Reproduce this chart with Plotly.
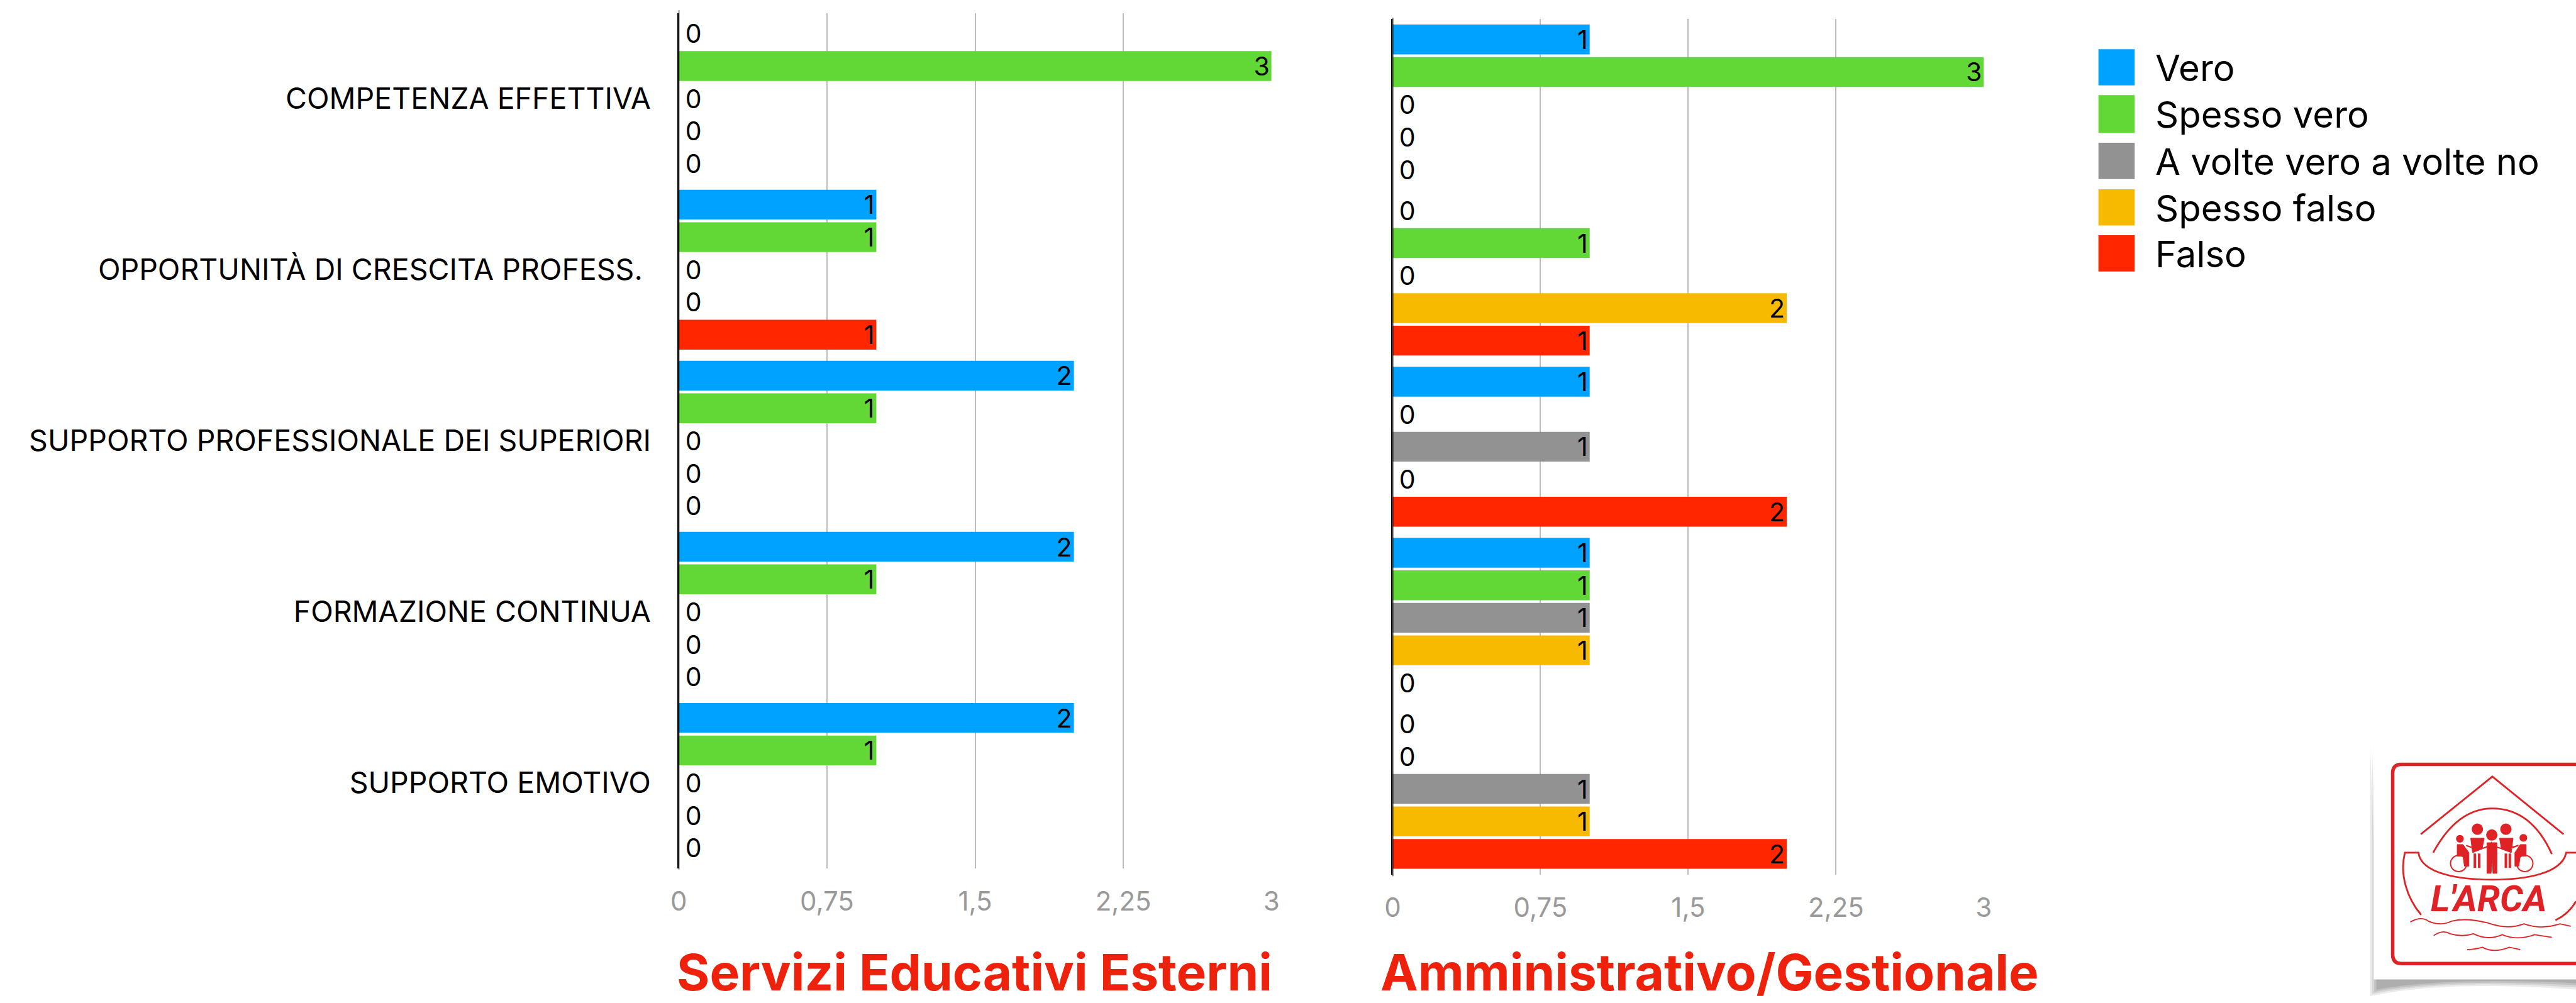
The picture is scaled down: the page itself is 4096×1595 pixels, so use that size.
import plotly.graph_objects as go

W, H = 4096, 1595
S = W / 4763

categories = ["COMPETENZA EFFETTIVA", "OPPORTUNITÀ DI CRESCITA PROFESS. ",
              "SUPPORTO PROFESSIONALE DEI SUPERIORI", "FORMAZIONE CONTINUA", "SUPPORTO EMOTIVO"]
series_names = ["Vero", "Spesso vero", "A volte vero a volte no", "Spesso falso", "Falso"]
series_colors = ["#00A2FF", "#61D836", "#929292", "#F8BA00", "#FF2600"]

educ_vero = [0, 1, 2, 2, 2]
educ_spesso_vero = [3, 1, 1, 1, 1]
educ_a_volte = [0, 0, 0, 0, 0]
educ_spesso_falso = [0, 0, 0, 0, 0]
educ_falso = [0, 1, 0, 0, 0]

amm_vero = [1, 0, 1, 1, 0]
amm_spesso_vero = [3, 1, 0, 1, 0]
amm_a_volte = [0, 0, 1, 1, 1]
amm_spesso_falso = [0, 2, 0, 1, 1]
amm_falso = [0, 1, 2, 0, 2]

tick_vals = [0, 0.75, 1.5, 2.25, 3]
tick_text = ["0", "0,75", "1,5", "2,25", "3"]

title_left = "Servizi Educativi Esterni"
title_right = "Amministrativo/Gestionale"

FONT = "Inter"
BLACK = "#000000"
GRID = "#BDBDBD"
TICK = "#999999"
TITLE = "#EE220C"
LOGO = "#DE2226"


def px(x):
    return x * S / W


def py(y):
    return 1 - y * S / H


fig = go.Figure()
panels = [
    ("x", "y", [educ_vero, educ_spesso_vero, educ_a_volte, educ_spesso_falso, educ_falso]),
    ("x2", "y2", [amm_vero, amm_spesso_vero, amm_a_volte, amm_spesso_falso, amm_falso]),
]
for xa, ya, rows in panels:
    for name, color, vals in zip(series_names, series_colors, rows):
        fig.add_trace(go.Bar(
            x=vals, y=categories, orientation="h", name=name, xaxis=xa, yaxis=ya,
            marker=dict(color=color, line=dict(width=0)), offsetgroup=name,
            text=[str(v) if v > 0 else "\u2009" + str(v) for v in vals],
            textposition=["inside" if v > 0 else "outside" for v in vals],
            insidetextanchor="end", textangle=0, cliponaxis=False,
            textfont=dict(family=FONT, size=41, color=BLACK),
            showlegend=False,
        ))

shapes = []
annotations = []


def line_path(d, color=LOGO, w=3.0, fill=None):
    s = dict(type="path", path=d, xref="paper", yref="paper", layer="above",
             line=dict(color=color, width=w))
    if fill:
        s["fillcolor"] = fill
    return s


def Z(zx, zy):
    return f"{px(4300 + zx / 3):.6f},{py(1350 + zy / 3):.6f}"


def zpath(*parts):
    out = []
    for p in parts:
        if isinstance(p, str):
            out.append(p)
        else:
            out.append(Z(*p))
    return " ".join(out)


def zcircle(cx, cy, r, color=LOGO, fill=LOGO, w=2.0):
    return dict(type="circle", xref="paper", yref="paper", layer="above",
                x0=px(4300 + (cx - r) / 3), x1=px(4300 + (cx + r) / 3),
                y0=py(1350 + (cy + r) / 3), y1=py(1350 + (cy - r) / 3),
                line=dict(color=color, width=w), fillcolor=fill)


# Axis overshoot
for xref, y0, y1 in [("x", 19, 1608), ("x2", 33, 1620)]:
    shapes.append(dict(type="line", xref=xref, yref="paper", x0=0, x1=0,
                       y0=py(y0), y1=py(y1), line=dict(color=BLACK, width=2), layer="above"))

# Legend
legend_tops = [91, 176, 264, 350, 435]
legend_bottoms = [158, 246, 331, 417, 502]
for name, color, t, b in zip(series_names, series_colors, legend_tops, legend_bottoms):
    shapes.append(dict(type="rect", xref="paper", yref="paper", x0=px(3880), x1=px(3947),
                       y0=py(b), y1=py(t), fillcolor=color, line=dict(width=0)))
    annotations.append(dict(text=name, xref="paper", yref="paper", x=px(3983), y=py((t + b) / 2 + 1),
                            xanchor="left", yanchor="middle", showarrow=False,
                            font=dict(family=FONT, size=58, color=BLACK)))

# Panel titles
annotations.append(dict(text=f"<b>{title_left}</b>", xref="paper", yref="paper", x=px(1802), y=py(1797),
                        xanchor="center", yanchor="middle", showarrow=False,
                        font=dict(family=FONT, size=80, color=TITLE)))
annotations.append(dict(text=f"<b>{title_right}</b>", xref="paper", yref="paper", x=px(3161), y=py(1797),
                        xanchor="center", yanchor="middle", showarrow=False,
                        font=dict(family=FONT, size=80, color=TITLE)))

# Logo card and shadow
for off, op in [(0, 0.12), (4, 0.14), (8, 0.16), (12, 0.18)]:
    shapes.append(dict(type="path", xref="paper", yref="paper", line=dict(width=0),
                       fillcolor=f"rgba(90,90,90,{op})",
                       path=f"M {px(4382 + off)},{py(1378 + off)} L {px(4382 + off)},{py(1842 - off)} "
                            f"Q {px(4520)},{py(1812 - off / 2)} {px(4763)},{py(1830 - off)} "
                            f"L {px(4763)},{py(1800)} L {px(4400)},{py(1800)} Z"))
shapes.append(dict(type="rect", xref="paper", yref="paper", x0=px(4389), x1=1.0,
                   y0=py(1811), y1=py(1378), fillcolor="#FFFFFF", line=dict(width=0)))

# Logo drawing
shapes.append(line_path("M " + zpath((1400, 190), "L", (420, 190), "Q", (372, 190), (372, 240),
                                     "L", (372, 1245), "Q", (372, 1295), (420, 1295), "L", (1400, 1295)), w=5.5))
shapes.append(line_path("M " + zpath((528, 578), "L", (925, 258), "L", (1320, 578)), w=2.8))
shapes.append(line_path("M " + zpath((597, 680), "C", (700, 490), (820, 435), (925, 435),
                                     "C", (1050, 435), (1170, 500), (1255, 688)), w=2.8))
shapes.append(line_path("M " + zpath((530, 1025), "C", (450, 930), (410, 800), (440, 680), "L", (515, 680),
                                     "C", (530, 800), (750, 830), (925, 830),
                                     "C", (1100, 830), (1310, 800), (1335, 680), "L", (1389, 680)), w=2.8))
shapes.append(line_path("M " + zpath((1389, 950), "Q", (1350, 1020), (1275, 1055)), w=2.8))
shapes.append(line_path("M " + zpath((470, 1065), "Q", (530, 1030), (570, 1060), "Q", (640, 1090), (700, 1060),
                                     "Q", (780, 1040), (900, 1070), "Q", (1010, 1110), (1100, 1075),
                                     "Q", (1200, 1110), (1300, 1075), "L", (1360, 1088)), w=1.8))
shapes.append(line_path("M " + zpath((600, 1140), "Q", (650, 1105), (690, 1130), "Q", (760, 1150), (820, 1130),
                                     "Q", (900, 1170), (980, 1135), "Q", (1060, 1170), (1160, 1135),
                                     "L", (1255, 1150)), w=1.8))
shapes.append(line_path("M " + zpath((785, 1218), "Q", (840, 1215), (870, 1205), "Q", (930, 1240), (1020, 1205),
                                     "L", (1080, 1218)), w=1.8))
for cx, cy, r in [(842, 550, 28), (1000, 550, 28), (922, 582, 28), (745, 603, 18), (1097, 598, 18)]:
    shapes.append(zcircle(cx, cy, r))
for cx, cy, r in [(738, 740, 45), (1105, 740, 45)]:
    shapes.append(zcircle(cx, cy, r, fill="rgba(0,0,0,0)"))
shapes.append(line_path("M " + zpath((895, 625), "L", (950, 625), "L", (950, 795), "L", (928, 795),
                                     "L", (925, 715), "L", (918, 795), "L", (895, 795), "Z"), w=1, fill=LOGO))
shapes.append(line_path("M " + zpath((805, 600), "L", (880, 600), "L", (868, 660), "L", (815, 680), "Z"), w=1, fill=LOGO))
shapes.append(line_path("M " + zpath((965, 600), "L", (1040, 600), "L", (1030, 680), "L", (975, 660), "Z"), w=1, fill=LOGO))
shapes.append(line_path("M " + zpath((780, 640), "Q", (880, 680), (920, 625), "Q", (960, 680), (1070, 640)), w=2.2))
shapes.append(line_path("M " + zpath((730, 635), "L", (762, 635), "L", (795, 680), "L", (795, 755), "L", (770, 755),
                                     "L", (762, 700), "L", (730, 700), "Z"), w=1, fill=LOGO))
shapes.append(line_path("M " + zpath((1080, 635), "L", (1112, 635), "L", (1112, 700), "L", (1080, 700),
                                     "L", (1072, 755), "L", (1050, 755), "L", (1050, 680), "Z"), w=1, fill=LOGO))
for zx in [828, 852, 1000, 1022]:
    shapes.append(line_path("M " + zpath((zx, 685), "L", (zx, 765)), w=4))
annotations.append(dict(text="<b><i>L'ARCA</i></b>", xref="paper", yref="paper",
                        x=px(4300 + 905 / 3), y=py(1350 + 935 / 3), xanchor="center", yanchor="middle",
                        showarrow=False, font=dict(family="Roboto", size=58, color=LOGO)))

x_common = dict(range=[0, 3], tickmode="array", tickvals=tick_vals, ticktext=tick_text,
                showgrid=True, gridcolor=GRID, gridwidth=2, zeroline=False, showline=False,
                ticks="", ticklabelstandoff=24, tickfont=dict(family=FONT, size=42, color=TICK),
                fixedrange=True)
y_common = dict(type="category", autorange="reversed", showgrid=False, zeroline=False,
                showline=True, linecolor=BLACK, linewidth=2, ticks="", fixedrange=True)

fig.update_layout(
    width=W, height=H, margin=dict(l=0, r=0, t=0, b=0, pad=0, autoexpand=False),
    paper_bgcolor="#FFFFFF", plot_bgcolor="rgba(0,0,0,0)",
    barmode="group", bargap=0.05, bargroupgap=0.083,
    font=dict(family=FONT),
    uniformtext=dict(minsize=41, mode="show"),
    shapes=shapes, annotations=annotations,
    xaxis=dict(domain=[px(1255), px(2351)], anchor="y", **x_common),
    yaxis=dict(domain=[py(1606), py(24)], anchor="x", categoryorder="array", categoryarray=categories,
               showticklabels=True, ticklabelstandoff=33,
               tickfont=dict(family=FONT, size=46.5, color=BLACK), **y_common),
    xaxis2=dict(domain=[px(2575), px(3668)], anchor="y2", **x_common),
    yaxis2=dict(domain=[py(1617), py(35)], anchor="x2", categoryorder="array", categoryarray=categories,
                showticklabels=False, **y_common),
)

fig.write_html("out.html", config={"displayModeBar": False},
               post_script="document.body.style.margin='0';document.body.style.overflow='hidden';")
